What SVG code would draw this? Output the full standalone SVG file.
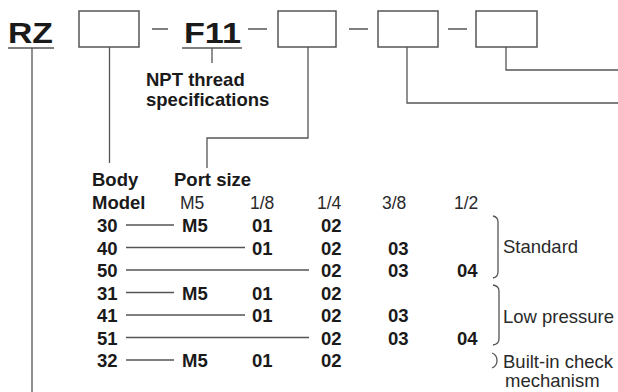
<svg xmlns="http://www.w3.org/2000/svg" width="618" height="392" viewBox="0 0 618 392">
<style>
.bg{fill:#ffffff}
.box{fill:#ffffff;stroke:#555555;stroke-width:1.5}
.ln{fill:none;stroke:#555555;stroke-width:1.3}
.big{font-family:"Liberation Sans",Arial,sans-serif;font-weight:bold;font-size:29px;fill:#1a1a1a}
.b{font-family:"Liberation Sans",Arial,sans-serif;font-weight:bold;font-size:18.5px;fill:#1a1a1a}
.r{font-family:"Liberation Sans",Arial,sans-serif;font-size:18.5px;fill:#2a2a2a}
.h{font-family:"Liberation Sans",Arial,sans-serif;font-size:17.5px;fill:#2a2a2a}
</style>
<rect class="bg" x="0" y="0" width="618" height="392"/>
<g id="code">
  <text class="big" x="8" y="43" textLength="45" lengthAdjust="spacingAndGlyphs">RZ</text>
  <rect id="box-body" class="box" x="79" y="11" width="60" height="36"/>
  <text class="big" x="184" y="43" textLength="57" lengthAdjust="spacingAndGlyphs">F11</text>
  <rect id="box-port" class="box" x="278" y="11" width="58" height="36"/>
  <rect id="box-3" class="box" x="378" y="11" width="60" height="36"/>
  <rect id="box-4" class="box" x="476" y="11" width="61" height="36"/>
</g>
<g id="connectors">
  <path class="ln" d="M152,29H168M248,29H267M349,29H368M448,29H467"/>
  <path class="ln" d="M8,48H54M32,48V392"/>
  <path class="ln" d="M109.5,47V163"/>
  <path class="ln" d="M182,48H242M212,48V63"/>
  <path class="ln" d="M308,47V138H207V168"/>
  <path class="ln" d="M407,47V103H618"/>
  <path class="ln" d="M506,47V70H618"/>
  <path class="ln" d="M126,225H174M126,247.5H245M126,270H309M126,292.5H174M126,315H245M126,337.5H309M126,360H174"/>
  <path class="ln" d="M493,216Q498,217 498,222V272Q498,277 493,278"/>
  <path class="ln" d="M493,285Q499,286 499,291V339Q499,344 493,345"/>
  <path class="ln" d="M492,353Q497,355 497,360.5Q497,366 492,368"/>
</g>
<g id="npt-label">
  <text class="b" x="146" y="86">NPT thread</text>
  <text class="b" x="146" y="106">specifications</text>
</g>
<g id="headers">
  <text class="b" x="92" y="186">Body</text>
  <text class="b" x="92" y="209">Model</text>
  <text class="b" x="174" y="186">Port size</text>
  <text class="h" x="180" y="209">M5</text>
  <text class="h" x="250" y="209">1/8</text>
  <text class="h" x="317" y="209">1/4</text>
  <text class="h" x="382" y="209">3/8</text>
  <text class="h" x="454" y="209">1/2</text>
</g>
<g id="rows">
  <text class="b" x="97" y="232">30</text><text class="b" x="182" y="232">M5</text><text class="b" x="252" y="232">01</text><text class="b" x="321" y="232">02</text>
  <text class="b" x="97" y="254.5">40</text><text class="b" x="252" y="254.5">01</text><text class="b" x="321" y="254.5">02</text><text class="b" x="388" y="254.5">03</text>
  <text class="b" x="97" y="277">50</text><text class="b" x="321" y="277">02</text><text class="b" x="388" y="277">03</text><text class="b" x="457" y="277">04</text>
  <text class="b" x="97" y="299.5">31</text><text class="b" x="182" y="299.5">M5</text><text class="b" x="252" y="299.5">01</text><text class="b" x="321" y="299.5">02</text>
  <text class="b" x="97" y="322">41</text><text class="b" x="252" y="322">01</text><text class="b" x="321" y="322">02</text><text class="b" x="388" y="322">03</text>
  <text class="b" x="97" y="344.5">51</text><text class="b" x="321" y="344.5">02</text><text class="b" x="388" y="344.5">03</text><text class="b" x="457" y="344.5">04</text>
  <text class="b" x="97" y="367">32</text><text class="b" x="182" y="367">M5</text><text class="b" x="252" y="367">01</text><text class="b" x="321" y="367">02</text>
</g>
<g id="groups">
  <text class="r" x="503" y="253">Standard</text>
  <text class="r" x="503" y="323">Low pressure</text>
  <text class="r" x="503" y="368">Built-in check</text>
  <text class="r" x="505" y="387">mechanism</text>
</g>
</svg>
